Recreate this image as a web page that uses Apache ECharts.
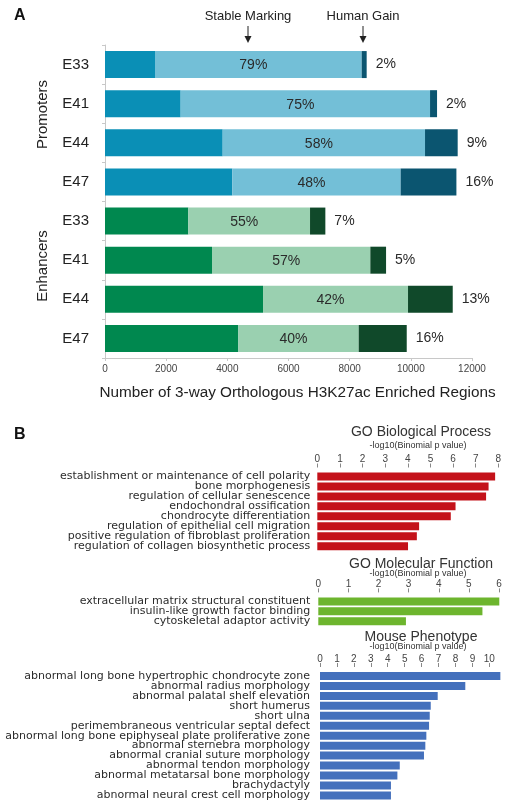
<!DOCTYPE html>
<html><head><meta charset="utf-8">
<script src="https://cdn.jsdelivr.net/npm/echarts@6/dist/echarts.min.js"></script>
<style>html,body{margin:0;padding:0;background:#fff}#c{width:508px;height:809px}</style>
</head><body><div id="c"></div>
<script>
// ---------- Panel A data ----------
const groupsA = ['Promoters', 'Enhancers'];
const samplesA = ['E33', 'E41', 'E44', 'E47'];
const humanLoss = [1635, 2474, 3848, 4164, 2725, 3499, 5167, 4360];
const stableMarking = [6758, 8154, 6616, 5504, 3979, 5177, 4741, 3936];
const humanGain = [163, 229, 1068, 1822, 501, 514, 1462, 1570];
const pctStable = [79, 75, 58, 48, 55, 57, 42, 40];
const pctGain = [2, 2, 9, 16, 7, 5, 13, 16];
const xTicksA = [0, 2000, 4000, 6000, 8000, 10000, 12000];

// ---------- Panel B data ----------
const bpTerms = ['establishment or maintenance of cell polarity', 'bone morphogenesis', 'regulation of cellular senescence', 'endochondral ossification', 'chondrocyte differentiation', 'regulation of epithelial cell migration', 'positive regulation of fibroblast proliferation', 'regulation of collagen biosynthetic process'];
const bpValues = [7.86, 7.57, 7.46, 6.11, 5.9, 4.5, 4.4, 4.01];
const bpTicks = [0, 1, 2, 3, 4, 5, 6, 7, 8];

const mfTerms = ['extracellular matrix structural constituent', 'insulin-like growth factor binding', 'cytoskeletal adaptor activity'];
const mfValues = [6.01, 5.45, 2.91];
const mfTicks = [0, 1, 2, 3, 4, 5, 6];

const mpTerms = ['abnormal long bone hypertrophic chondrocyte zone', 'abnormal radius morphology', 'abnormal palatal shelf elevation', 'short humerus', 'short ulna', 'perimembraneous ventricular septal defect', 'abnormal long bone epiphyseal plate proliferative zone', 'abnormal sternebra morphology', 'abnormal cranial suture morphology', 'abnormal tendon morphology', 'abnormal metatarsal bone morphology', 'brachydactyly', 'abnormal neural crest cell morphology'];
const mpValues = [10.65, 8.58, 6.95, 6.54, 6.48, 6.44, 6.28, 6.22, 6.14, 4.71, 4.57, 4.19, 4.19];
const mpTicks = [0, 1, 2, 3, 4, 5, 6, 7, 8, 9, 10];

// ---------- styles ----------
const FONT = '"Liberation Sans", Arial, Helvetica, sans-serif';
const FONT_B = '"DejaVu Sans", "Liberation Sans", sans-serif';
const colorsA = {
  Promoters: ['#0a8fb6', '#73bfd7', '#0b5570'],
  Enhancers: ['#00884f', '#9ad0b0', '#10492a']
};
const catKeys = [];
groupsA.forEach(g => samplesA.forEach(s => catKeys.push(g + '|' + s)));
const groupOf = i => catKeys[i].split('|')[0];

function segData(values, seg) {
  return values.map((v, i) => ({ value: v, itemStyle: { color: colorsA[groupOf(i)][seg] } }));
}

const chart = echarts.init(document.getElementById('c'), null, { renderer: 'canvas' });

function bGrid(top, n, left, right) {
  return { left: left, right: right, top: top, height: n * 9.95, containLabel: false };
}
function bXAxis(gi, max, ticks) {
  return {
    type: 'value', gridIndex: gi, position: 'top', min: 0, max: max, offset: 4,
    axisLine: { show: false },
    axisTick: { show: true, length: 4, lineStyle: { color: '#888', width: 1 }, customValues: ticks },
    axisLabel: { fontSize: 10, color: '#444', margin: 3, fontFamily: FONT, customValues: ticks, formatter: v => String(v) },
    splitLine: { show: false }
  };
}
function bYAxis(gi, terms, margin) {
  return {
    type: 'category', gridIndex: gi, data: terms, inverse: true,
    axisLine: { show: false }, axisTick: { show: false },
    axisLabel: { interval: 0, fontSize: 11, color: '#2c2c2c', margin: margin, fontFamily: FONT_B }
  };
}
function titleText(text, x, y, size) {
  return { text: text, left: x, top: y, textAlign: 'center', padding: 0,
    textStyle: { fontSize: size, fontWeight: 'normal', color: '#333', fontFamily: FONT } };
}

const option = {
  animation: false,
  backgroundColor: '#fff',
  textStyle: { fontFamily: FONT },
  title: [
    titleText('GO Biological Process', 421, 425.5, 14),
    titleText('-log10(Binomial p value)', 418, 441, 9),
    titleText('GO Molecular Function', 421, 557, 14),
    titleText('-log10(Binomial p value)', 418, 569, 9),
    titleText('Mouse Phenotype', 421, 630, 14),
    titleText('-log10(Binomial p value)', 418, 642.5, 9)
  ],
  grid: [
    { left: 105, right: 36, top: 45, height: 313 },
    bGrid(471.5, bpTerms.length, 317.3, 9.7),
    bGrid(596.4, mfTerms.length, 318.3, 7.5),
    bGrid(671, mpTerms.length, 320, 6.8)
  ],
  xAxis: [
    {
      type: 'value', gridIndex: 0, min: 0, max: 12000, interval: 2000,
      axisLine: { show: true, lineStyle: { color: '#c8c8c8' } },
      axisTick: { show: true, length: 3, lineStyle: { color: '#c8c8c8' } },
      axisLabel: { fontSize: 10, color: '#444', margin: 6, fontFamily: FONT, customValues: xTicksA, formatter: v => String(v) },
      splitLine: { show: false },
      name: 'Number of 3-way Orthologous H3K27ac Enriched Regions',
      nameLocation: 'middle', nameGap: 27,
      nameTextStyle: { fontSize: 15.3, color: '#222', fontFamily: FONT, padding: [0, 0, 0, 18] }
    },
    bXAxis(1, 8, bpTicks),
    bXAxis(2, 6.05, mfTicks),
    bXAxis(3, 10.7, mpTicks)
  ],
  yAxis: [
    {
      type: 'category', gridIndex: 0, data: catKeys, inverse: true,
      axisLine: { show: true, lineStyle: { color: '#c8c8c8' } },
      axisTick: { show: true, length: 3, lineStyle: { color: '#c8c8c8' } },
      axisLabel: { interval: 0, fontSize: 15, color: '#222', margin: 16, fontFamily: FONT, formatter: v => v.split('|')[1] }
    },
    bYAxis(1, bpTerms, 7),
    bYAxis(2, mfTerms, 8),
    bYAxis(3, mpTerms, 10)
  ],
  series: [
    { type: 'bar', stack: 'a', xAxisIndex: 0, yAxisIndex: 0, barWidth: 27, data: segData(humanLoss, 0) },
    {
      type: 'bar', stack: 'a', xAxisIndex: 0, yAxisIndex: 0, barWidth: 27, data: segData(stableMarking, 1),
      label: { show: true, position: 'inside', offset: [-5, 1], fontSize: 14, color: '#2a2a2a', fontFamily: FONT, formatter: p => pctStable[p.dataIndex] + '%' }
    },
    {
      type: 'bar', stack: 'a', xAxisIndex: 0, yAxisIndex: 0, barWidth: 27, data: segData(humanGain, 2),
      label: { show: true, position: 'right', distance: 9, fontSize: 14, color: '#2a2a2a', fontFamily: FONT, formatter: p => pctGain[p.dataIndex] + '%' }
    },
    { type: 'bar', xAxisIndex: 1, yAxisIndex: 1, barWidth: 8, data: bpValues, itemStyle: { color: '#c4121a' } },
    { type: 'bar', xAxisIndex: 2, yAxisIndex: 2, barWidth: 8, data: mfValues, itemStyle: { color: '#6db52e' } },
    { type: 'bar', xAxisIndex: 3, yAxisIndex: 3, barWidth: 8, data: mpValues, itemStyle: { color: '#4470bc' } }
  ],
  graphic: [
    { type: 'text', left: 14, top: 8, style: { text: 'A', fontSize: 16, fontWeight: 'bold', fill: '#111', fontFamily: FONT } },
    { type: 'text', left: 14, top: 427, style: { text: 'B', fontSize: 16, fontWeight: 'bold', fill: '#111', fontFamily: FONT } },
    { type: 'text', x: 248, y: 16, style: { text: 'Stable Marking', fontSize: 13, fill: '#222', align: 'center', verticalAlign: 'middle', fontFamily: FONT } },
    { type: 'text', x: 363, y: 16, style: { text: 'Human Gain', fontSize: 13, fill: '#222', align: 'center', verticalAlign: 'middle', fontFamily: FONT } },
    { type: 'line', shape: { x1: 248, y1: 26, x2: 248, y2: 38 }, style: { stroke: '#222', lineWidth: 1 } },
    { type: 'polygon', shape: { points: [[244.5, 36], [251.5, 36], [248, 43]] }, style: { fill: '#222' } },
    { type: 'line', shape: { x1: 363, y1: 26, x2: 363, y2: 38 }, style: { stroke: '#222', lineWidth: 1 } },
    { type: 'polygon', shape: { points: [[359.5, 36], [366.5, 36], [363, 43]] }, style: { fill: '#222' } },
    { type: 'text', x: 43, y: 114.5, rotation: Math.PI / 2, style: { text: 'Promoters', fontSize: 15, fill: '#222', align: 'center', verticalAlign: 'middle', fontFamily: FONT } },
    { type: 'text', x: 43, y: 266, rotation: Math.PI / 2, style: { text: 'Enhancers', fontSize: 15, fill: '#222', align: 'center', verticalAlign: 'middle', fontFamily: FONT } }
  ]
};
chart.setOption(option);
</script>
</body></html>
